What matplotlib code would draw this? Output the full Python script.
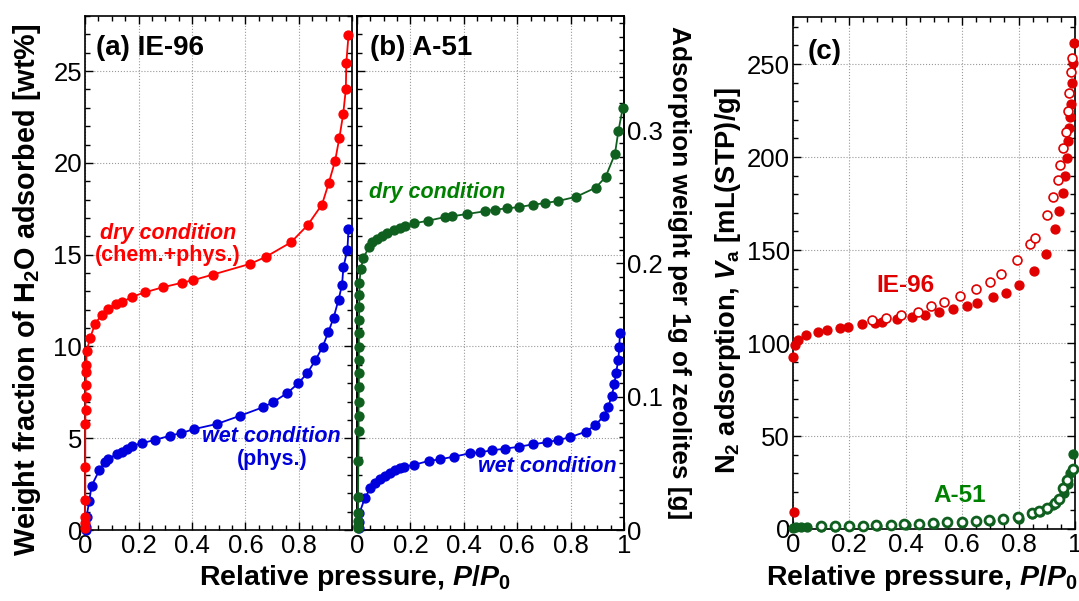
import matplotlib
matplotlib.use("Agg")
import matplotlib.pyplot as plt
from matplotlib.ticker import MultipleLocator, FuncFormatter

plt.rcParams['font.family'] = ['Liberation Sans', 'DejaVu Sans']
plt.rcParams['mathtext.fontset'] = 'custom'
plt.rcParams['mathtext.rm'] = 'Liberation Sans:bold'
plt.rcParams['mathtext.it'] = 'Liberation Sans:italic:bold'
plt.rcParams['mathtext.bf'] = 'Liberation Sans:bold'

# ---------------- data ----------------
# (a) IE-96, H2O adsorption [wt%]
a_dry_x = [0.000, 0.000, 0.000, 0.001, 0.001, 0.001, 0.002, 0.002, 0.003, 0.004, 0.005, 0.006,
           0.019, 0.037, 0.062, 0.087, 0.116, 0.138, 0.175, 0.225, 0.290, 0.363, 0.402, 0.477,
           0.618, 0.676, 0.770, 0.832, 0.886, 0.911, 0.935, 0.951, 0.965, 0.975, 0.977, 0.985]
a_dry_y = [0.09, 0.36, 0.73, 1.64, 3.45, 5.78, 6.55, 7.27, 7.90, 8.60, 9.00, 9.73,
           10.46, 11.20, 11.73, 12.06, 12.30, 12.40, 12.70, 12.95, 13.22, 13.47, 13.60, 13.91,
           14.50, 14.88, 15.67, 16.60, 17.73, 18.89, 20.11, 21.37, 22.64, 24.00, 25.46, 26.95]
a_wet_x = [0.004, 0.004, 0.006, 0.016, 0.025, 0.054, 0.075, 0.087, 0.119, 0.138, 0.156, 0.175,
           0.213, 0.262, 0.319, 0.360, 0.406, 0.494, 0.579, 0.666, 0.704, 0.756, 0.798, 0.831,
           0.861, 0.888, 0.910, 0.929, 0.948, 0.961, 0.966, 0.981, 0.985]
a_wet_y = [0.00, 0.15, 0.73, 1.60, 2.42, 3.27, 3.73, 3.86, 4.15, 4.27, 4.42, 4.58,
           4.73, 4.91, 5.14, 5.28, 5.49, 5.78, 6.22, 6.69, 6.97, 7.46, 8.00, 8.55,
           9.24, 9.97, 10.79, 11.55, 12.55, 13.37, 14.31, 15.28, 16.37]

# (b) A-51, adsorption weight per 1 g of zeolite [g]
b_dry_x = [0.004, 0.004, 0.004, 0.004, 0.004, 0.005, 0.006, 0.006, 0.006, 0.007, 0.007, 0.007,
           0.007, 0.007, 0.008, 0.008, 0.009, 0.009, 0.014, 0.024, 0.046, 0.057, 0.074, 0.092,
           0.111, 0.139, 0.161, 0.180, 0.215, 0.266, 0.330, 0.355, 0.413, 0.479, 0.516, 0.562,
           0.608, 0.658, 0.705, 0.753, 0.821, 0.894, 0.931, 0.966, 0.979, 0.995]
b_dry_y = [0.0013, 0.0030, 0.0070, 0.0125, 0.0250, 0.0520, 0.0743, 0.0855, 0.0960, 0.1075, 0.1175, 0.1275,
           0.1375, 0.1475, 0.1575, 0.1671, 0.1763, 0.1855, 0.1956, 0.2043, 0.2125, 0.2158, 0.2183, 0.2208,
           0.2226, 0.2251, 0.2268, 0.2281, 0.2301, 0.2320, 0.2348, 0.2353, 0.2371, 0.2391, 0.2403, 0.2413,
           0.2423, 0.2440, 0.2453, 0.2468, 0.2500, 0.2568, 0.2648, 0.2821, 0.2993, 0.3163]
b_wet_x = [0.006, 0.009, 0.009, 0.029, 0.050, 0.069, 0.087, 0.106, 0.125, 0.143, 0.162, 0.175,
           0.212, 0.268, 0.310, 0.362, 0.423, 0.461, 0.506, 0.554, 0.608, 0.658, 0.710, 0.754,
           0.796, 0.858, 0.893, 0.926, 0.941, 0.954, 0.964, 0.970, 0.979, 0.982, 0.985]
b_wet_y = [0.0013, 0.0062, 0.0125, 0.0238, 0.0313, 0.0355, 0.0380, 0.0405, 0.0430, 0.0450, 0.0463, 0.0475,
           0.0488, 0.0518, 0.0530, 0.0550, 0.0575, 0.0583, 0.0598, 0.0610, 0.0625, 0.0643, 0.0658, 0.0675,
           0.0695, 0.0738, 0.0788, 0.0858, 0.0925, 0.1005, 0.1095, 0.1180, 0.1275, 0.1370, 0.1475]

# (c) N2 adsorption [mL(STP)/g]
c_ie_ads_x = [0.005, 0.002, 0.008, 0.020, 0.047, 0.091, 0.120, 0.168, 0.197, 0.244, 0.292, 0.315,
              0.368, 0.421, 0.469, 0.518, 0.567, 0.616, 0.652, 0.711, 0.757, 0.802, 0.856, 0.897,
              0.930, 0.944, 0.956, 0.965, 0.971, 0.976, 0.980, 0.982, 0.986, 0.990, 0.992, 0.996]
c_ie_ads_y = [9.3, 92.6, 98.9, 101.6, 104.3, 106.1, 107.0, 108.2, 108.8, 110.2, 110.9, 111.5,
              112.7, 114.1, 115.1, 116.8, 118.1, 119.9, 121.7, 124.6, 127.0, 131.0, 138.9, 147.8,
              161.3, 171.0, 180.5, 189.8, 199.3, 208.8, 215.4, 221.3, 228.3, 240.0, 250.4, 261.1]
c_ie_des_x = [0.280, 0.330, 0.383, 0.445, 0.489, 0.537, 0.593, 0.648, 0.699, 0.738, 0.796, 0.841,
              0.858, 0.902, 0.921, 0.939, 0.947, 0.959, 0.967, 0.974, 0.980, 0.986, 0.990]
c_ie_des_y = [112.4, 113.3, 115.1, 116.5, 120.1, 122.2, 125.3, 128.9, 133.0, 137.1, 144.6, 153.2,
              156.6, 168.8, 178.3, 187.6, 195.7, 204.7, 213.6, 224.9, 234.6, 245.9, 253.1]
c_a_ads_x = [0.002, 0.012, 0.030, 0.050, 0.100, 0.150, 0.200, 0.300, 0.400, 0.500, 0.600, 0.700,
             0.800, 0.847, 0.876, 0.900, 0.921, 0.941, 0.962, 0.976, 0.982, 0.994]
c_a_ads_y = [0.5, 0.9, 1.0, 1.1, 1.2, 1.3, 1.4, 1.5, 2.0, 2.6, 3.3, 4.2,
             5.5, 7.9, 9.0, 10.8, 12.9, 15.6, 19.5, 24.0, 29.9, 40.3]
c_a_des_x = [0.099, 0.150, 0.200, 0.248, 0.295, 0.348, 0.395, 0.447, 0.498, 0.545, 0.598, 0.648,
             0.696, 0.746, 0.799, 0.847, 0.874, 0.900, 0.929, 0.944, 0.959, 0.971, 0.992]
c_a_des_y = [1.6, 1.6, 1.6, 1.8, 2.0, 2.2, 2.5, 2.8, 3.2, 3.6, 3.9, 4.3,
             4.8, 5.4, 6.3, 8.8, 9.7, 11.5, 13.8, 16.0, 21.9, 26.3, 32.1]

x_ticks_ab = [0, 0.2, 0.4, 0.6, 0.8]
x_ticks_full = [0, 0.2, 0.4, 0.6, 0.8, 1]

# ---------------- styling ----------------
RED = '#ff0000'
RED_C = '#e00000'
BLUE = '#0000dd'
GREEN_M = '#0f5f1f'
GREEN_T = '#008000'
TICK_FS = 18.5
NOTE_FS = 15.5
MS = 6.4
LW = 1.3

fmt = FuncFormatter(lambda v, p: ('%g' % round(v, 6)))

fig = plt.figure(figsize=(10.79, 6.01), dpi=100)
W, H = 1079.0, 601.0


def add_ax(x0, x1, y0, y1):
    return fig.add_axes([x0 / W, 1 - y1 / H, (x1 - x0) / W, (y1 - y0) / H])


def style(ax, left=True, right=True):
    ax.tick_params(which='both', direction='in', top=True, bottom=True,
                   left=left, right=right, labelsize=TICK_FS, width=1.0)
    ax.tick_params(which='major', length=6)
    ax.tick_params(which='minor', length=3.5)
    ax.tick_params(axis='x', pad=3)
    ax.tick_params(axis='y', pad=2)
    for s in ax.spines.values():
        s.set_linewidth(1.2)
    ax.grid(True, which='major', color='#999999', linestyle=':', linewidth=0.8)
    ax.set_axisbelow(True)


# ---- (a)
ax_a = add_ax(85, 352.5, 16, 530)
ax_a.set_xlim(0, 1)
ax_a.set_ylim(0, 28)
ax_a.xaxis.set_minor_locator(MultipleLocator(0.05))
ax_a.yaxis.set_major_locator(MultipleLocator(5))
ax_a.yaxis.set_minor_locator(MultipleLocator(1))
ax_a.set_xticks(x_ticks_ab)
ax_a.xaxis.set_major_formatter(fmt)
ax_a.yaxis.set_major_formatter(fmt)
style(ax_a)
ax_a.plot(a_wet_x, a_wet_y, '-o', color=BLUE, ms=MS, lw=LW, clip_on=False, zorder=3)
ax_a.plot(a_dry_x, a_dry_y, '-o', color=RED, ms=MS, lw=LW, clip_on=False, zorder=4)
fig.text(96 / W, 1 - 47.7 / H, '(a) IE-96', fontsize=20, fontweight='bold',
         ha='left', va='center')
fig.text(168 / W, 1 - 234 / H, 'dry condition', color=RED, fontsize=NOTE_FS,
         fontweight='bold', fontstyle='italic', ha='center', va='center')
fig.text(168 / W, 1 - 255 / H, '(chem.+phys.)', color=RED, fontsize=NOTE_FS,
         fontweight='bold', ha='center', va='center')
fig.text(271 / W, 1 - 437 / H, 'wet condition', color=BLUE, fontsize=NOTE_FS,
         fontweight='bold', fontstyle='italic', ha='center', va='center')
fig.text(272 / W, 1 - 459 / H, '(phys.)', color=BLUE, fontsize=NOTE_FS,
         fontweight='bold', ha='center', va='center')

# ---- (b)
ax_b = add_ax(357, 624, 16, 530)
ax_b.set_xlim(0, 1)
ax_b.set_ylim(0, 28)
ax_b.xaxis.set_minor_locator(MultipleLocator(0.05))
ax_b.yaxis.set_major_locator(MultipleLocator(5))
ax_b.yaxis.set_minor_locator(MultipleLocator(1))
ax_b.set_xticks(x_ticks_full)
ax_b.xaxis.set_major_formatter(fmt)
style(ax_b, left=True, right=False)
ax_b.tick_params(axis='y', labelleft=False)
ax_b2 = ax_b.twinx()
ax_b2.set_ylim(0, 0.3856)
ax_b2.yaxis.set_major_locator(MultipleLocator(0.1))
ax_b2.yaxis.set_minor_locator(MultipleLocator(0.01))
ax_b2.yaxis.set_major_formatter(fmt)
ax_b2.tick_params(which='both', direction='in', right=True, left=False,
                  labelsize=TICK_FS, width=1.0, pad=2)
ax_b2.tick_params(which='major', length=6)
ax_b2.tick_params(which='minor', length=3.5)
for s in ax_b2.spines.values():
    s.set_linewidth(1.2)
ax_b2.plot(b_wet_x, b_wet_y, '-o', color=BLUE, ms=MS, lw=LW, clip_on=False, zorder=3)
ax_b2.plot(b_dry_x, b_dry_y, '-o', color=GREEN_M, ms=MS, lw=LW, clip_on=False, zorder=4)
fig.text(370 / W, 1 - 47.7 / H, '(b) A-51', fontsize=20, fontweight='bold',
         ha='left', va='center')
fig.text(369 / W, 1 - 192.7 / H, 'dry condition', color=GREEN_T, fontsize=NOTE_FS,
         fontweight='bold', fontstyle='italic', ha='left', va='center')
fig.text(547 / W, 1 - 466.7 / H, 'wet condition', color=BLUE, fontsize=NOTE_FS,
         fontweight='bold', fontstyle='italic', ha='center', va='center')

# ---- (c)
ax_c = add_ax(792.7, 1075, 17, 529)
ax_c.set_xlim(0, 1)
ax_c.set_ylim(0, 275.3)
ax_c.xaxis.set_minor_locator(MultipleLocator(0.05))
ax_c.yaxis.set_major_locator(MultipleLocator(50))
ax_c.yaxis.set_minor_locator(MultipleLocator(10))
ax_c.set_xticks(x_ticks_full)
ax_c.xaxis.set_major_formatter(fmt)
ax_c.yaxis.set_major_formatter(fmt)
style(ax_c)
ax_c.plot(c_a_ads_x, c_a_ads_y, 'o', color=GREEN_M, ms=MS, clip_on=False, zorder=3)
ax_c.plot(c_a_des_x, c_a_des_y, 'o', mfc='white', mec=GREEN_M, mew=2.0, ms=MS,
          clip_on=False, zorder=4)
ax_c.plot(c_ie_ads_x, c_ie_ads_y, 'o', color=RED_C, ms=MS, clip_on=False, zorder=3)
ax_c.plot(c_ie_des_x, c_ie_des_y, 'o', mfc='white', mec=RED_C, mew=1.2, ms=MS,
          clip_on=False, zorder=4)
fig.text(808 / W, 1 - 52 / H, '(c)', fontsize=20, fontweight='bold',
         ha='left', va='center')
fig.text(905 / W, 1 - 286 / H, 'IE-96', color=RED_C, fontsize=17.5,
         fontweight='bold', ha='center', va='center')
fig.text(960 / W, 1 - 495 / H, 'A-51', color=GREEN_T, fontsize=17.5,
         fontweight='bold', ha='center', va='center')

# ---- axis labels
fig.text(27 / W, 1 - 289.5 / H, r'Weight fraction of H$_\mathrm{2}$O adsorbed [wt%]',
         rotation=90, fontsize=20.8, fontweight='bold', ha='center', va='center')
fig.text(679 / W, 1 - 272.5 / H, 'Adsorption weight per 1g of zeolites [g]',
         rotation=270, fontsize=18.9, fontweight='bold', ha='center', va='center')
fig.text(354.5 / W, 1 - 578 / H, r'Relative pressure, $P$/$P_\mathrm{0}$',
         fontsize=20.5, fontweight='bold', ha='center', va='center')
fig.text(922 / W, 1 - 578 / H, r'Relative pressure, $P$/$P_\mathrm{0}$',
         fontsize=20.5, fontweight='bold', ha='center', va='center')
fig.text(728 / W, 1 - 281 / H, r'N$_\mathrm{2}$ adsorption, $V_\mathrm{a}$ [mL(STP)/g]',
         rotation=90, fontsize=19.6, fontweight='bold', ha='center', va='center')

fig.savefig('out.png', dpi=100)
